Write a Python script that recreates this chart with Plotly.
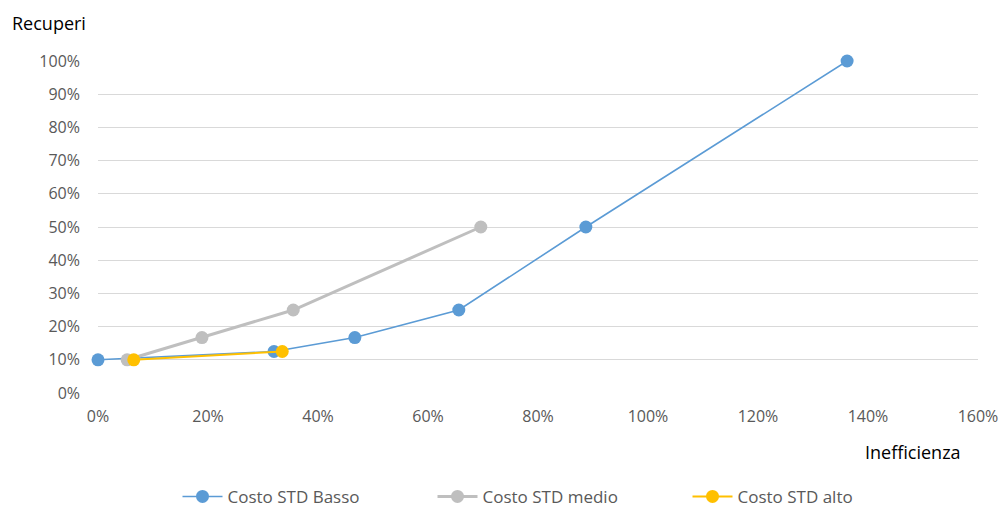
import plotly.graph_objects as go

# Inefficienza (x) e Recuperi (y) per ciascun livello di costo standard
basso_x = [0.0, 0.32, 0.467, 0.656, 0.887, 1.362]
basso_y = [0.10, 0.125, 0.167, 0.25, 0.50, 1.00]

medio_x = [0.053, 0.189, 0.355, 0.696]
medio_y = [0.10, 0.167, 0.25, 0.50]

alto_x = [0.065, 0.335]
alto_y = [0.10, 0.125]

series = [
    ("Costo STD Basso", basso_x, basso_y, "#5B9BD5", 1.6),
    ("Costo STD medio", medio_x, medio_y, "#BFBFBF", 3),
    ("Costo STD alto", alto_x, alto_y, "#FFC000", 2),
]

font_family = "'Open Sans', 'Liberation Sans', sans-serif"

fig = go.Figure()
for name, xs, ys, color, width in series:
    fig.add_trace(go.Scatter(
        x=xs, y=ys, name=name, mode="lines+markers",
        line=dict(color=color, width=width),
        marker=dict(color=color, size=13),
        cliponaxis=False,
    ))

fig.update_layout(
    width=1005, height=507,
    margin=dict(l=98, r=27, t=61, b=114, autoexpand=False),
    paper_bgcolor="white", plot_bgcolor="white",
    font=dict(family=font_family, size=16, color="#595959"),
    showlegend=True,
    legend=dict(
        orientation="h", x=0.525, xanchor="center", y=-0.313, yanchor="middle",
        font=dict(size=17, color="#595959"), traceorder="normal",
        itemwidth=40, entrywidth=200,
    ),
    xaxis=dict(
        range=[0, 1.6], tickvals=[i * 0.2 for i in range(9)],
        tickformat=".0%", showgrid=False, zeroline=False, showline=False,
        ticks="", ticklabelstandoff=12,
    ),
    yaxis=dict(
        range=[0, 1.0], tickvals=[i * 0.1 for i in range(11)],
        tickformat=".0%", showgrid=True, gridcolor="#D9D9D9", gridwidth=1,
        zeroline=False, showline=False, ticks="", ticklabelstandoff=17,
    ),
    annotations=[
        dict(text="Recuperi", xref="paper", yref="paper", x=-0.1, y=1.114,
             xanchor="left", yanchor="middle", showarrow=False,
             font=dict(size=18, color="#000000", family=font_family)),
        dict(text="Inefficienza", xref="paper", yref="paper", x=0.983, y=-0.178,
             xanchor="right", yanchor="middle", showarrow=False,
             font=dict(size=18, color="#000000", family=font_family)),
    ],
)

fig.write_html("out.html")
